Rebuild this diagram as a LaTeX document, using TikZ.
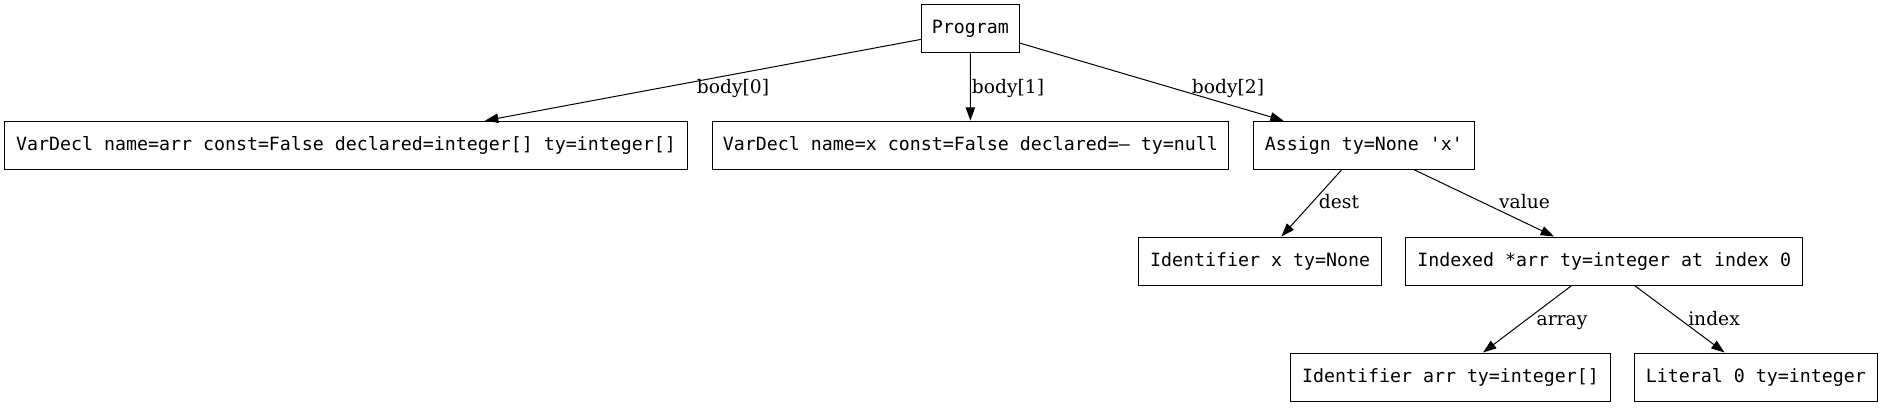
\documentclass[tikz,border=0pt]{standalone}
\usepackage{fontspec}
\setmainfont{DejaVu Serif}
\newfontfamily\monofont{DejaVu Sans Mono}
\usetikzlibrary{arrows.meta}
\tikzset{
  astnode/.style={draw=black, line width=0.75pt, rectangle, inner sep=0pt,
    minimum height=36pt, text height=10pt, text depth=2.4pt,
    font=\monofont\fontsize{13.7pt}{16pt}\selectfont},
  edgelabel/.style={inner sep=0pt, anchor=base,
    font=\fontsize{14pt}{16pt}\selectfont},
  edge/.style={draw=black, line width=0.75pt, -{Triangle[length=10pt,width=7pt]}},
}
\begin{document}
\begin{tikzpicture}[x=0.75pt, y=-0.75pt]
\useasboundingbox (0,0) rectangle (1883,407);
% nodes
\node[astnode, minimum width=73.5pt]  (prog) at (970.3,28.9)  {Program};
\node[astnode, minimum width=512pt]   (vd1)  at (346,145.2)   {VarDecl name=arr const=False declared=integer[] ty=integer[]};
\node[astnode, minimum width=387.2pt] (vd2)  at (970.4,145.2) {VarDecl name=x const=False declared=– ty=null};
\node[astnode, minimum width=165.8pt] (asg)  at (1363.8,145.2) {Assign ty=None 'x'};
\node[astnode, minimum width=182.4pt] (idx)  at (1260.1,261)  {Identifier x ty=None};
\node[astnode, minimum width=297.8pt] (ind)  at (1604.2,261)  {Indexed *arr ty=integer at index 0};
\node[astnode, minimum width=239.3pt] (ida)  at (1450.5,377)  {Identifier arr ty=integer[]};
\node[astnode, minimum width=182.4pt] (lit)  at (1755.9,377)  {Literal 0 ty=integer};
% edges
\draw[edge] (prog.192) -- (vd1.10.5);
\draw[edge] (prog.south) -- (vd2.north);
\draw[edge] (prog.-16.4) -- (asg.163.3);
\draw[edge] (asg.228.8) -- (idx.49.3);
\draw[edge] (asg.334) -- (ind.154);
\draw[edge] (ind.217.3) -- (ida.37.2);
\draw[edge] (ind.321.4) -- (lit.142.5);
% edge labels
\node[edgelabel] (l0) at (733,93.3)    {body[0]};
\node[edgelabel] (l1) at (1008,93.3)   {body[1]};
\node[edgelabel] (l2) at (1228,93.3)   {body[2]};
\node[edgelabel] (l3) at (1339,208.5)  {dest};
\node[edgelabel] (l4) at (1524.5,208.5) {value};
\node[edgelabel] (l5) at (1562,325.5)  {array};
\node[edgelabel] (l6) at (1714,325.5)  {index};
\end{tikzpicture}
\end{document}
